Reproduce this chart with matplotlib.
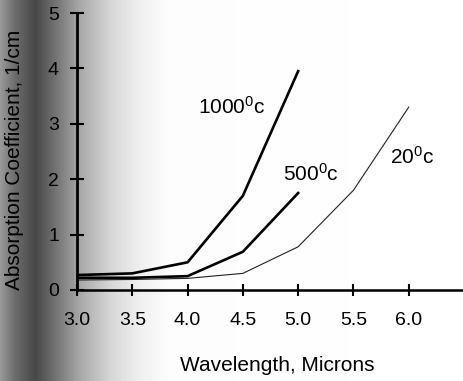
import numpy as np
import matplotlib
matplotlib.use('Agg')
import matplotlib.pyplot as plt

plt.rcParams['font.family'] = ['Liberation Sans', 'DejaVu Sans']
plt.rcParams['mathtext.fontset'] = 'custom'
plt.rcParams['mathtext.rm'] = 'Liberation Sans'
plt.rcParams['mathtext.default'] = 'rm'

# data
wl_1000 = [3.0, 3.5, 4.0, 4.5, 5.0]
abs_1000 = [0.27, 0.30, 0.50, 1.70, 3.95]
wl_500 = [3.0, 3.5, 4.0, 4.5, 5.0]
abs_500 = [0.22, 0.22, 0.25, 0.69, 1.75]
wl_20 = [3.0, 3.5, 4.0, 4.5, 5.0, 5.5, 6.0]
abs_20 = [0.18, 0.19, 0.21, 0.30, 0.78, 1.80, 3.30]
x_ticks = [3.0, 3.5, 4.0, 4.5, 5.0, 5.5, 6.0]
x_ticklabels = ['3.0', '3.5', '4.0', '4.5', '5.0', '5.5', '6.0']
y_ticks = [0, 1, 2, 3, 4, 5]

W, H = 464, 381
fig = plt.figure(figsize=(W / 100, H / 100), dpi=100)

# grey scanner shading on the left side of the page
bg = fig.add_axes([0, 0, 1, 1], zorder=-10)
gx = [0, 15, 35, 55, 80, 110, 140, 170, 464]
gv = [0.60, 0.42, 0.28, 0.45, 0.66, 0.84, 0.94, 0.99, 1.0]
col = np.interp(np.arange(W), gx, gv)
bg.imshow(np.tile(col, (H, 1)), cmap='gray', vmin=0, vmax=1, aspect='auto',
          extent=[0, W, H, 0])
bg.set_axis_off()

ax = fig.add_axes([77 / W, (H - 290) / H, (W - 77) / W, (290 - 13) / H])
ax.patch.set_alpha(0)

ax.plot(wl_1000, abs_1000, color='black', lw=1.9)
ax.plot(wl_500, abs_500, color='black', lw=1.9)
ax.plot(wl_20, abs_20, color='#222222', lw=0.8)

ax.text(4.095, 3.3, r'1000$^{0}$c', fontsize=15, va='center')
ax.text(4.86, 2.1, r'500$^{0}$c', fontsize=15, va='center')
ax.text(5.83, 2.4, r'20$^{0}$c', fontsize=15, va='center')

ax.set_xlim(3.0, 6.5)
ax.set_ylim(0, 5)
ax.set_xticks(x_ticks)
ax.set_xticklabels(x_ticklabels)
ax.set_yticks(y_ticks)
for s in ['top', 'right']:
    ax.spines[s].set_visible(False)
ax.spines['left'].set_linewidth(2)
ax.spines['bottom'].set_linewidth(1.8)
ax.tick_params(axis='x', direction='inout', length=9, width=1.5, labelsize=14, pad=11)
ax.tick_params(axis='y', direction='inout', length=10, width=1.5, labelsize=14, pad=8)

ax.set_xlabel('Wavelength, Microns', fontsize=15)
ax.xaxis.set_label_coords((277 - 77) / (W - 77), -(356 - 290) / (290 - 13))
ax.set_ylabel('Absorption Coefficient, 1/cm', fontsize=15)
ax.yaxis.set_label_coords(-(77 - 24) / (W - 77), (290 - 160) / (290 - 13))

fig.savefig('out.png', dpi=100)
